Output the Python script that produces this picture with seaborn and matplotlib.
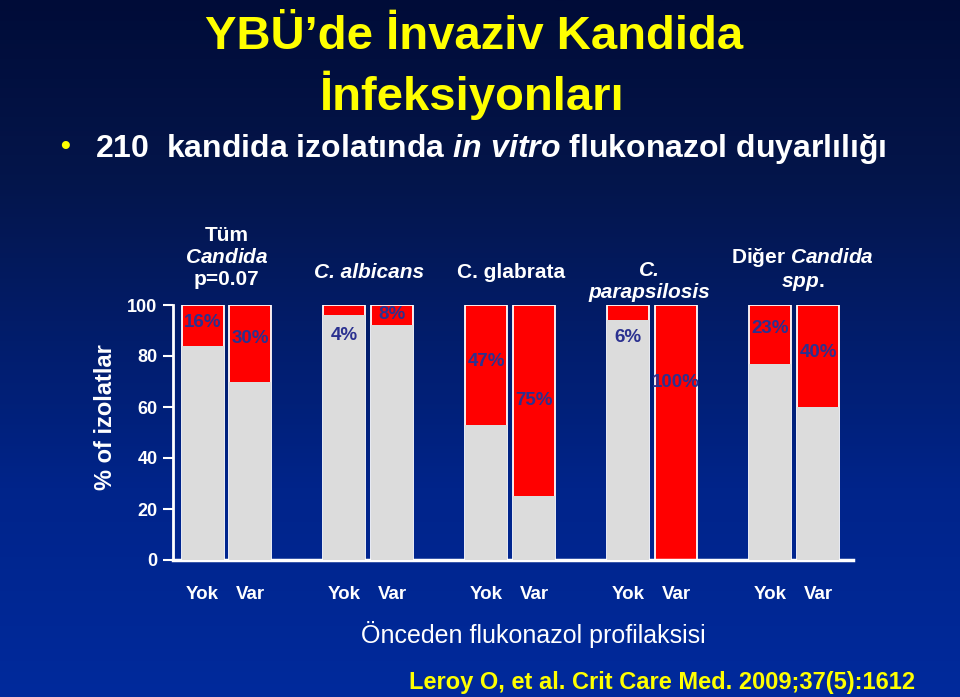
import numpy as np
import pandas as pd
import matplotlib
matplotlib.use("Agg")
import matplotlib.pyplot as plt
from matplotlib.colors import LinearSegmentedColormap
import seaborn as sns

# ---------------- data ----------------
groups = ["Tüm Candida", "C. albicans", "C. glabrata", "C. parapsilosis", "Diğer Candida spp."]
prophylaxis = ["Yok", "Var"]
# % resistant (red, top) and % susceptible (grey, bottom) per bar, order: group x (Yok, Var)
resistant = [16, 30, 4, 8, 47, 75, 6, 100, 23, 40]
susceptible = [84, 70, 96, 92, 53, 25, 94, 0, 77, 60]
y_ticks = [0, 20, 40, 60, 80, 100]

# ---------------- layout (not data) ----------------
label_y = [93.3, 86.7, 88.0, 96.1, 77.8, 62.5, 87.4, 69.5, 90.6, 81.3]
header_texts = ["Tüm\n$\\mathit{Candida}$\np=0.07", "C. albicans", "C. glabrata",
                "C.\nparapsilosis", "Diğer $\\mathit{Candida}$\n$\\mathit{spp.}$"]
header_italic = [False, True, False, True, False]
header_pos = [(0.0, 118.8), (1.003, 112.9), (2.003, 112.9), (2.98, 109.2), (4.06, 114.1)]

sns.set_theme(style="white")
plt.rcParams["font.family"] = ["Liberation Sans", "DejaVu Sans"]
plt.rcParams["mathtext.fontset"] = "custom"
plt.rcParams["mathtext.it"] = "Liberation Sans:bold:italic"
plt.rcParams["mathtext.rm"] = "Liberation Sans:bold"
plt.rcParams["mathtext.bf"] = "Liberation Sans:bold"

rows = []
for i, g in enumerate(groups):
    for j, p in enumerate(prophylaxis):
        k = i * 2 + j
        rows.append({"group": g, "proph": p, "resistant": resistant[k],
                     "susceptible": susceptible[k],
                     "total": resistant[k] + susceptible[k]})
df = pd.DataFrame(rows)

W, H = 960, 697
fig = plt.figure(figsize=(W / 100, H / 100), dpi=100)

# background gradient
bg = fig.add_axes([0, 0, 1, 1], zorder=-10)
cmap = LinearSegmentedColormap.from_list(
    "bg", [(0.0, "#000c38"), (0.25, "#04154a"), (0.7, "#00248a"), (1.0, "#002a9c")])
bg.imshow(np.linspace(0, 1, 256).reshape(-1, 1), aspect="auto", cmap=cmap,
          extent=[0, 1, 0, 1], origin="upper")
bg.set_axis_off()

ax = fig.add_axes([173 / W, 137 / H, 680 / W, 255 / H])
ax.set_facecolor("none")

RED = "#ff0000"
GREY = "#dcdcdc"
bw = 0.676
gap = 0.124
sns.barplot(data=df, x="group", y="total", hue="proph", order=groups,
            hue_order=prophylaxis, palette={"Yok": RED, "Var": RED},
            saturation=1, width=bw, gap=gap, edgecolor="white", linewidth=1.3,
            errorbar=None, legend=False, ax=ax, zorder=2)
n_red = len(ax.patches)
sns.barplot(data=df, x="group", y="susceptible", hue="proph", order=groups,
            hue_order=prophylaxis, palette={"Yok": GREY, "Var": GREY},
            saturation=1, width=bw, gap=gap, linewidth=0, errorbar=None,
            legend=False, ax=ax, zorder=3)

# bar centres in plotting order (group, Yok/Var)
red_bars = ax.patches[:n_red]
centres = sorted([b.get_x() + b.get_width() / 2 for b in red_bars])

ax.set_xlim(-0.377, 4.415)
ax.set_ylim(0, 100)
ax.set_xticks(centres)
ax.set_xticklabels(prophylaxis * len(groups))
ax.set_yticks(y_ticks)
ax.set_yticklabels([str(v) for v in y_ticks])
ax.set_xlabel("")
ax.set_ylabel("")

for s in ["top", "right"]:
    ax.spines[s].set_visible(False)
ax.spines["left"].set_color("white")
ax.spines["left"].set_linewidth(2)
ax.spines["bottom"].set_color("white")
ax.spines["bottom"].set_linewidth(2.5)
ax.tick_params(axis="y", colors="white", length=7.2, width=1.5, pad=4,
               labelsize=13, direction="out", left=True)
ax.tick_params(axis="x", colors="white", length=0, pad=19, labelsize=13.5)
for t in ax.get_yticklabels() + ax.get_xticklabels():
    t.set_fontweight("bold")
    t.set_color("white")

# percentage labels
for c, r, ly in zip(centres, resistant, label_y):
    ax.text(c, ly, f"{r}%", ha="center", va="center", color="#2b3190",
            fontsize=13.5, fontweight="bold", zorder=5, clip_on=False)

# group headers
for txt, it, (hx, hy) in zip(header_texts, header_italic, header_pos):
    ax.text(hx, hy, txt, ha="center", va="center", color="white",
            fontsize=15, fontweight="bold", fontstyle="italic" if it else "normal",
            linespacing=1.2, clip_on=False, zorder=6)

# y label
fig.text(105 / W, 1 - 417 / H, "% of izolatlar", rotation=90, ha="center",
         va="center", color="white", fontsize=17, fontweight="bold")
# x label
fig.text(533 / W, 1 - 634 / H, "Önceden flukonazol profilaksisi", ha="center",
         va="center", color="white", fontsize=18)

# title
YEL = "#ffff00"
fig.text(474 / W, 1 - 37 / H, "YBÜ’de İnvaziv Kandida", ha="center", va="center",
         color=YEL, fontsize=34, fontweight="bold")
fig.text(472 / W, 1 - 95 / H, "İnfeksiyonları", ha="center", va="center",
         color=YEL, fontsize=34, fontweight="bold")

# bullet line
fig.text(65 / W, 1 - 147 / H, "•", ha="center", va="center", color=YEL,
         fontsize=20, fontweight="bold")
fig.text(95 / W, 1 - 149 / H,
         "210  kandida izolatında $\\mathit{in\\ vitro}$ flukonazol duyarlılığı",
         ha="left", va="center", color="white", fontsize=23, fontweight="bold")

# reference
fig.text(662 / W, 1 - 683 / H, "Leroy O, et al. Crit Care Med. 2009;37(5):1612",
         ha="center", va="center", color=YEL, fontsize=17, fontweight="bold")

fig.savefig("out.png", dpi=100)
